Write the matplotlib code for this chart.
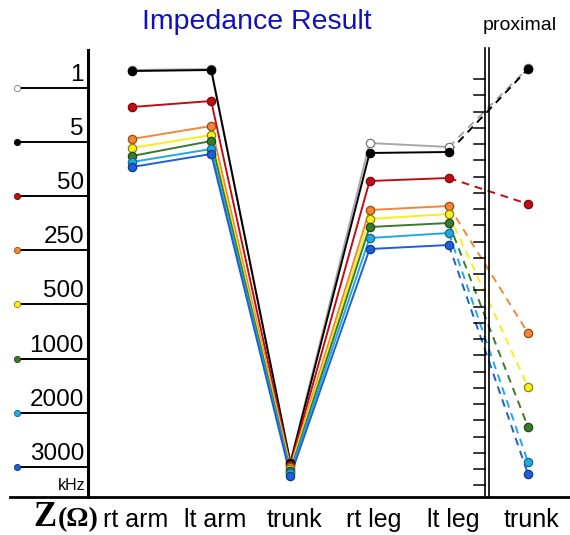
import numpy as np
import matplotlib.pyplot as plt

# sites along the x axis and frequencies (kHz)
sites = ['rt arm', 'lt arm', 'trunk', 'rt leg', 'lt leg', 'trunk']
freqs = ['1', '5', '50', '250', '500', '1000', '2000', '3000']

# impedance position (larger = lower on chart)
z_1k    = [70, 69, 462, 143, 147, 68]
z_5k    = [71, 70, 463, 153, 152, 69]
z_50k   = [107, 101, 465, 181, 178, 204]
z_250k  = [139, 126, 467, 210, 206, 333]
z_500k  = [148, 135, 469, 219, 214, 387]
z_1000k = [156, 141, 471, 227, 223, 427]
z_2000k = [162, 149, 473, 238, 233, 462]
z_3000k = [167, 154, 476, 249, 245, 474]

series = [z_1k, z_5k, z_50k, z_250k, z_500k, z_1000k, z_2000k, z_3000k]
face = ['white', 'black', '#c00d14', '#f2873a', '#f7ee1a', '#3a7a2a', '#1ea9e3', '#1e5fd8']
line = ['#a8a8a8', 'black', '#c00d14', '#f2873a', '#f7ee1a', '#3a7a2a', '#1ea9e3', '#1e5fd8']
edge = ['#777777', 'black', '#7a0a0a', '#9a4a10', '#8a8410', '#1f4a18', '#106a90', '#103a88']

W, H = 570, 535
x0, dx = 132, 79.2  # pixel of first site, spacing


def px(p):
    return (p - x0) / dx


fig = plt.figure(figsize=(W / 100, H / 100), dpi=100)
ax = fig.add_axes([0, 0, 1, 1])
ax.set_xlim(px(0), px(W))
ax.set_ylim(H, 0)
ax.axis('off')

xs = np.arange(len(sites))
for i, ys in enumerate(series):
    ax.plot(xs[:5], ys[:5], color=line[i], lw=1.4, zorder=2 + i * 0.1)
    ax.plot(xs[4:], ys[4:], color=line[i], lw=1.4, ls=(0, (4, 3)), zorder=2 + i * 0.1)
    ax.plot(xs, ys, ls='none', marker='o', ms=6, mfc=face[i], mec=edge[i],
            mew=0.9, zorder=3 + i * 0.1)

# left frequency scale
fy = 88 + 54.1 * np.arange(len(freqs))
ax.plot([px(88), px(88)], [50, 497], color='black', lw=2.2, zorder=5)
for i, f in enumerate(freqs):
    ax.plot([px(17), px(88)], [fy[i], fy[i]], color='black', lw=1.4, zorder=4)
    ax.plot(px(17), fy[i], marker='o', ms=4.5, mfc=face[i], mec=edge[i], mew=0.6, zorder=5)
    ax.text(px(84), fy[i] - 2, f, ha='right', va='bottom', fontsize=17.5,
            family='Liberation Sans')
ax.text(px(85), 493, 'kHz', ha='right', va='bottom', fontsize=11.5, family='Liberation Sans')

# bottom line
ax.plot([px(10), px(W)], [497, 497], color='black', lw=2, zorder=5)

# proximal divider with ticks
for xl in (485, 489):
    ax.plot([px(xl), px(xl)], [48, 497], color='black', lw=1.2, zorder=6)
ty = 79 + 16.25 * np.arange(26)
for t in ty:
    ax.plot([px(474), px(485)], [t, t], color='black', lw=1.1, zorder=6)

# labels
for i, s in enumerate(sites):
    ax.text(xs[i] + 0.05, 520, s, ha='center', va='center', fontsize=18,
            family='Liberation Sans')
ax.text(px(45), 518, 'Z', ha='center', va='center', fontsize=25, fontweight='bold',
        family='Liberation Serif')
ax.text(px(78), 520, '(Ω)', ha='center', va='center', fontsize=20, fontweight='bold',
        family='Liberation Serif')

ax.text(px(257), 22, 'Impedance Result', ha='center', va='center', fontsize=20.5,
        color='#1010c0', family='Liberation Sans')
ax.text(px(520), 26, 'proximal', ha='center', va='center', fontsize=14,
        family='Liberation Sans')

fig.savefig('out.png', dpi=100)
